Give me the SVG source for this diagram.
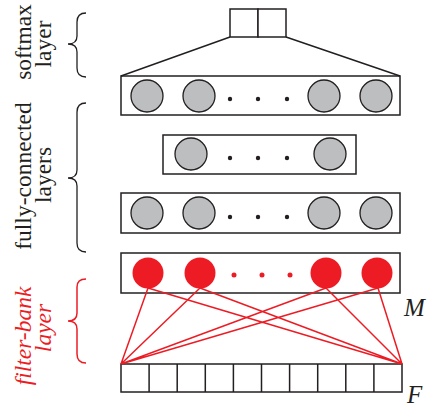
<svg xmlns="http://www.w3.org/2000/svg" width="429" height="409" viewBox="0 0 429 409">
<style>
.box{fill:#fff;stroke:#231f20;stroke-width:1.5}
.g{fill:#bcbec0;stroke:#231f20;stroke-width:1.3}
.r{fill:#ed1c24;stroke:none}
.dot{fill:#231f20}
.rdot{fill:#ed1c24}
.lbl{font-family:"Liberation Serif","Times New Roman",serif;font-size:23.5px;fill:#231f20;text-anchor:middle}
.rl{font-family:"Liberation Serif","Times New Roman",serif;font-size:23.5px;font-style:italic;fill:#ed1c24;text-anchor:middle}
.var{font-family:"Liberation Serif","Times New Roman",serif;font-size:25px;font-style:italic;fill:#231f20}
.brace{fill:none;stroke:#231f20;stroke-width:1.3}
.rbrace{fill:none;stroke:#ed1c24;stroke-width:1.5}
.conn{stroke:#ed1c24;stroke-width:1.5;fill:none}
.thin{stroke:#231f20;stroke-width:1.5;fill:none}
</style>
<g id="softmax">
<rect class="box" x="230" y="9" width="28" height="28"/>
<rect class="box" x="258" y="9" width="28" height="28"/>
</g>
<g id="fc1">
<rect class="box" x="121" y="76" width="279" height="39"/>
<circle class="g" cx="147" cy="96" r="16"/>
<circle class="g" cx="199" cy="96" r="16"/>
<circle class="g" cx="324" cy="96" r="16"/>
<circle class="g" cx="376" cy="96" r="16"/>
<circle class="dot" cx="230" cy="99" r="2.2"/>
<circle class="dot" cx="258" cy="99" r="2.2"/>
<circle class="dot" cx="287" cy="99" r="2.2"/>
</g>
<g id="fc2">
<rect class="box" x="163" y="135" width="193" height="39"/>
<circle class="g" cx="191" cy="154" r="16"/>
<circle class="g" cx="330" cy="154" r="16"/>
<circle class="dot" cx="230" cy="158" r="2.2"/>
<circle class="dot" cx="258" cy="158" r="2.2"/>
<circle class="dot" cx="287" cy="158" r="2.2"/>
</g>
<g id="fc3">
<rect class="box" x="121" y="193" width="279" height="40"/>
<circle class="g" cx="147" cy="213" r="16"/>
<circle class="g" cx="199" cy="213" r="16"/>
<circle class="g" cx="324" cy="213" r="16"/>
<circle class="g" cx="376" cy="213" r="16"/>
<circle class="dot" cx="230" cy="217" r="2.2"/>
<circle class="dot" cx="258" cy="217" r="2.2"/>
<circle class="dot" cx="287" cy="217" r="2.2"/>
</g>
<g id="filterbank">
<rect class="box" x="121" y="253" width="279" height="40"/>
<circle class="r" cx="148" cy="273" r="15.5"/>
<circle class="r" cx="200" cy="273" r="15.5"/>
<circle class="r" cx="326" cy="273" r="15.5"/>
<circle class="r" cx="377" cy="273" r="15.5"/>
<circle class="rdot" cx="234" cy="275" r="2.5"/>
<circle class="rdot" cx="262" cy="275" r="2.5"/>
<circle class="rdot" cx="290" cy="275" r="2.5"/>
</g>
<g id="input">
<rect class="box" x="121" y="364" width="281" height="28"/>
<path class="thin" d="M149.1 364V392M177.2 364V392M205.3 364V392M233.4 364V392M261.5 364V392M289.6 364V392M317.7 364V392M345.8 364V392M373.9 364V392"/>
</g>
<g id="connectors">
<path class="thin" d="M230 37L121 76M286 37L400 76"/>
<path class="conn" d="M148 288L121 364M148 288L402 364M200 288L121 364M200 288L402 364M326 288L121 364M326 288L402 364M378 288L121 364M378 288L402 364"/>
</g>
<g id="labels">
<path class="brace" d="M86 13Q77 13 77 22V36Q77 44 68 44Q77 44 77 52V68Q77 77 86 77"/>
<path class="brace" d="M86 103Q77 103 77 112V170Q77 178 68 178Q77 178 77 186V243Q77 252 86 252"/>
<path class="rbrace" d="M86 279Q77 279 77 287V313Q77 321 68 321Q77 321 77 329V354Q77 363 86 363"/>
<text class="lbl" transform="translate(31,42) rotate(-90)">softmax</text>
<text class="lbl" transform="translate(51,44) rotate(-90)">layer</text>
<text class="lbl" transform="translate(31,176) rotate(-90)">fully-connected</text>
<text class="lbl" transform="translate(51,175) rotate(-90)">layers</text>
<text class="rl" transform="translate(31,336) rotate(-90)">filter-bank</text>
<text class="rl" transform="translate(51,328) rotate(-90)">layer</text>
<text class="var" x="404" y="316">M</text>
<text class="var" x="407" y="403">F</text>
</g>
</svg>
